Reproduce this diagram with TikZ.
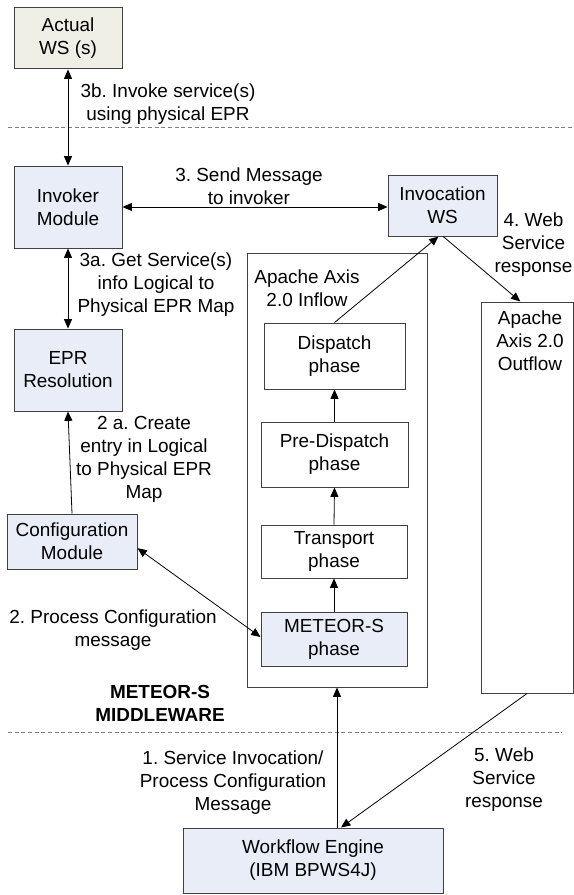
\documentclass[tikz,border=0pt]{standalone}
\usepackage{fontspec}
\setmainfont{Liberation Sans}
\usetikzlibrary{arrows.meta}
\definecolor{modfill}{HTML}{E8EDF7}
\definecolor{wsfill}{HTML}{EFEFE6}
\definecolor{edgegray}{HTML}{404040}
\newcommand{\boxfont}{\fontsize{14.2}{17.25}\selectfont\frenchspacing}

\begin{document}
\begin{tikzpicture}[x=0.75pt, y=-0.75pt]
  \tikzset{
    box/.style={draw=edgegray, line width=0.75pt, align=center, font=\boxfont, inner sep=0pt},
    module/.style={box, fill=modfill},
    lbl/.style={align=center, font=\boxfont, inner sep=0pt},
    tip/.tip={Triangle[length=7pt, width=6pt]},
    link/.style={line width=0.6pt, -tip},
    twoway/.style={line width=0.6pt, tip-tip},
    divider/.style={draw=gray, line width=0.6pt, dash pattern=on 3pt off 2pt}
  }
  \useasboundingbox (0,0) rectangle (574,895);

  % outside world and middleware modules
  \node[box, fill=wsfill, minimum width=81pt, minimum height=45.75pt] (actual) at (68,38.5) {Actual\\WS (s)};
  \node[module, minimum width=81pt, minimum height=61.5pt] (invoker) at (68,207) {Invoker\\Module};
  \node[module, minimum width=81pt, minimum height=61.5pt] (epr) at (68,370) {EPR\\Resolution};
  \node[module, minimum width=97.5pt, minimum height=41.25pt] (config) at (72,541.5) {Configuration\\Module};
  \node[module, minimum width=81.75pt, minimum height=45.75pt] (invws) at (442.5,205.5) {Invocation\\WS};

  % axis handler chains
  \node[box, minimum width=135pt, minimum height=325.5pt] (inflow) at (337,470) {};
  \node[lbl] (inflowname) at (307,288.5) {Apache Axis\\2.0 Inflow};
  \node[box, minimum width=105.75pt, minimum height=49.5pt] (dispatch) at (334.5,356) {Dispatch\\phase};
  \node[box, minimum width=110.25pt, minimum height=48.75pt] (predispatch) at (334.5,454.5) {Pre-Dispatch\\phase};
  \node[box, minimum width=109.5pt, minimum height=39.75pt] (transport) at (334,551.5) {Transport\\phase};
  \node[module, minimum width=109.5pt, minimum height=40.5pt] (meteor) at (334,639) {METEOR-S\\phase};
  \node[box, minimum width=69pt, minimum height=293.25pt] (outflow) at (527,497.5) {};
  \node[lbl] (outflowname) at (530,341) {Apache\\Axis 2.0\\Outflow};

  \node[module, minimum width=195pt, minimum height=48.75pt] (engine) at (313,860.5) {Workflow Engine\\(IBM BPWS4J)};

  % layer boundaries
  \coordinate (topL) at (8,127);
  \coordinate (topR) at (574,127);
  \coordinate (botL) at (8,732);
  \coordinate (botR) at (562,732);
  \draw[divider] (topL) -- (topR);
  \draw[divider] (botL) -- (botR);
  \node[lbl, font=\boxfont\bfseries] (mwname) at (160,703.5) {METEOR-S\\MIDDLEWARE};

  % message flow
  \draw[twoway] (actual.south) -- (invoker.north);
  \draw[twoway] (invoker.east) -- (invoker.east -| invws.west);
  \draw[twoway] (invoker.south) -- (epr.north);
  \draw[link] (config.north) -- (epr.south);
  \draw[twoway] ([yshift=-5pt]config.east) -- ([yshift=1.5pt]meteor.west);
  \draw[link] (meteor.north) -- (transport.south);
  \draw[link] (transport.north) -- (predispatch.south);
  \draw[link] (predispatch.north) -- (dispatch.south);
  \draw[link] (dispatch.north) -- ([xshift=-3pt]invws.south);
  \draw[link] ([xshift=0.5pt]invws.south) -- ([xshift=-5pt]outflow.north);
  \draw[link] (inflow.south |- engine.north) -- (inflow.south);
  \draw[link] (outflow.south) -- ([xshift=21pt]engine.north);

  % step labels
  \node[lbl] (l3b) at (168,104.5) {3b. Invoke service(s)\\using physical EPR};
  \node[lbl] (l3) at (249,186) {3. Send Message\\to invoker};
  \node[lbl] (l3a) at (156,285) {3a. Get Service(s)\\info Logical to\\Physical EPR Map};
  \node[lbl] (l2a) at (144,459) {2 a. Create\\entry in Logical\\to Physical EPR\\Map};
  \node[lbl] (l2) at (113,630.5) {2. Process Configuration\\message};
  \node[lbl] (l4) at (533.5,245) {4. Web\\Service\\response};
  \node[lbl] (l1) at (233,783) {1. Service Invocation/\\Process Configuration\\Message};
  \node[lbl] (l5) at (504,780) {5. Web\\Service\\response};
\end{tikzpicture}
\end{document}
